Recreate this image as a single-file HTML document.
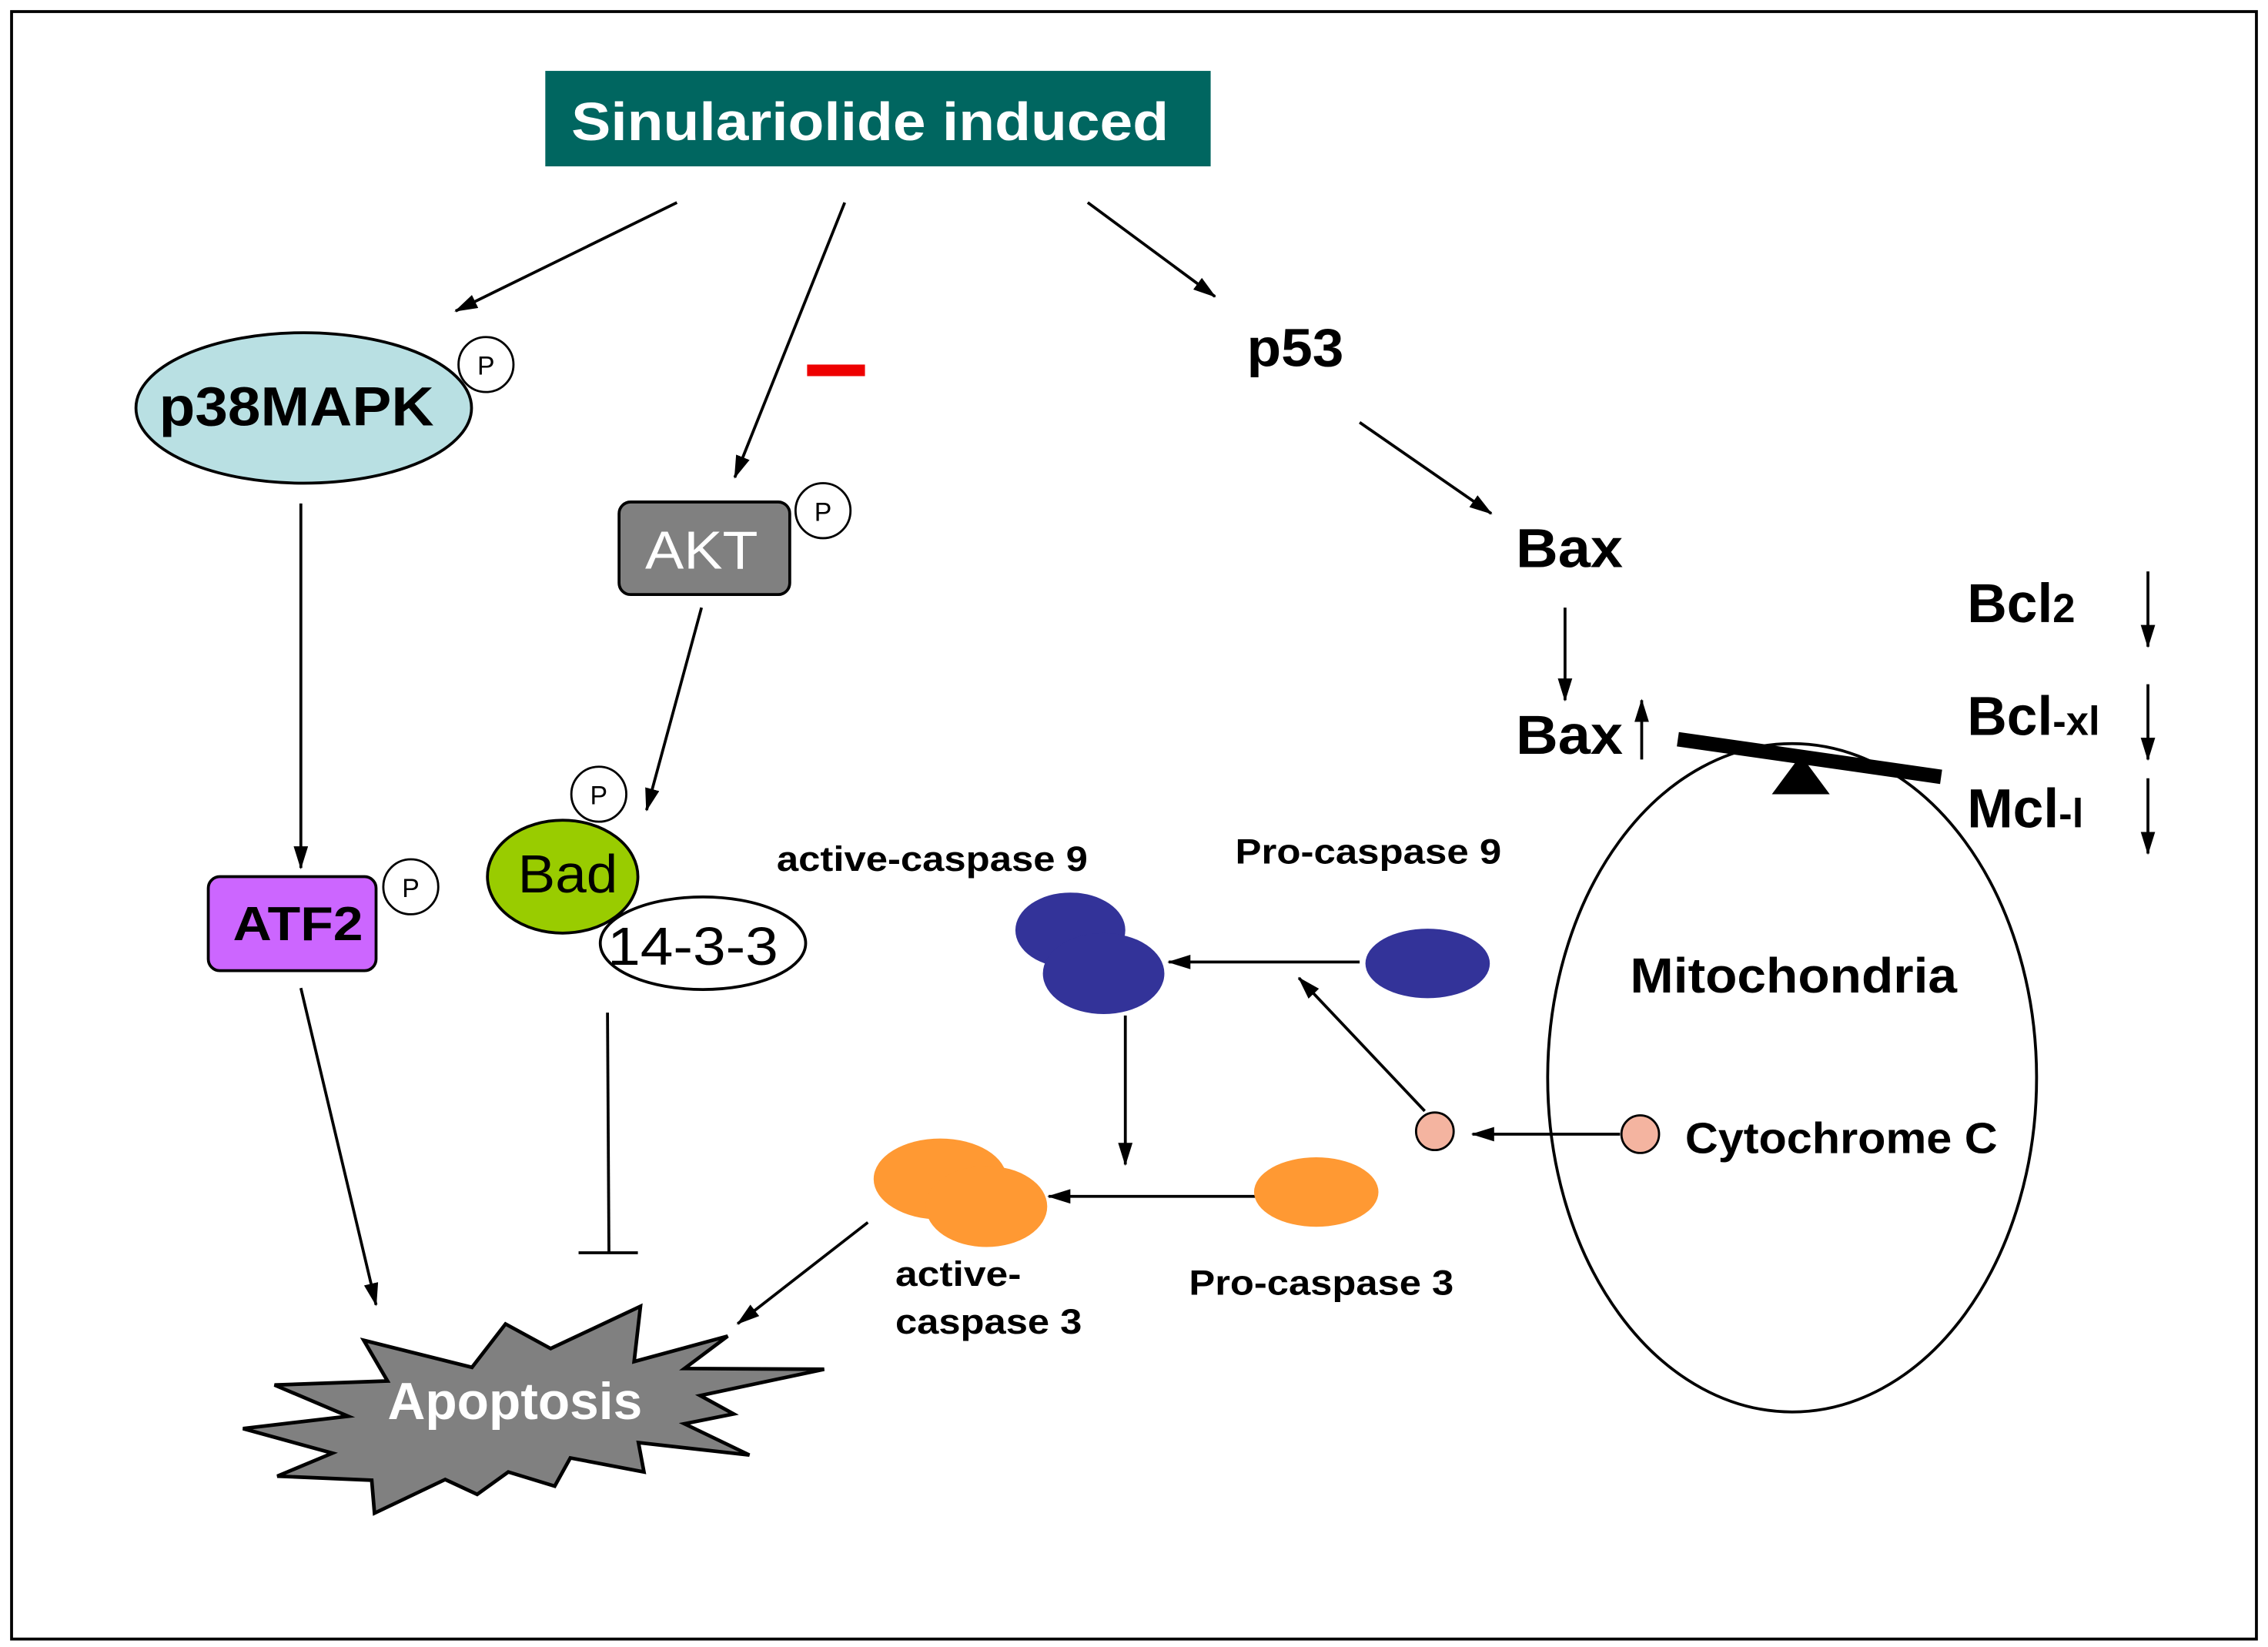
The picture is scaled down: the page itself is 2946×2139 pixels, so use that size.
<!DOCTYPE html>
<html><head><meta charset="utf-8"><style>
html,body{margin:0;padding:0;background:#fff;}
svg{display:block;}
text{font-family:"Liberation Sans",Arial,sans-serif;}
</style></head><body>
<svg width="2946" height="2139" viewBox="0 0 1568 1138.5" preserveAspectRatio="none" xmlns="http://www.w3.org/2000/svg">
<defs>
<marker id="b" markerWidth="16" markerHeight="10" refX="15" refY="5" orient="auto" markerUnits="userSpaceOnUse">
<path d="M0,0 L16,5 L0,10 Z" fill="#000"/></marker>
</defs>
<rect x="8" y="8" width="1552" height="1125" fill="#fff" stroke="#000" stroke-width="2"/>
<rect x="377" y="49" width="460" height="66" fill="#006660"/>
<text x="395" y="97" font-size="37" font-weight="bold" fill="#fff" textLength="413" lengthAdjust="spacingAndGlyphs">Sinulariolide induced</text>
<g stroke="#000" stroke-width="2" fill="none" marker-end="url(#b)">
<line x1="468" y1="140" x2="315" y2="215"/>
<line x1="584" y1="140" x2="508" y2="330"/>
<line x1="752" y1="140" x2="840" y2="205"/>
<line x1="208" y1="348" x2="208" y2="600"/>
<line x1="485" y1="420" x2="447" y2="560"/>
<line x1="208" y1="683" x2="260" y2="902"/>
<line x1="940" y1="292" x2="1031" y2="355"/>
<line x1="1082" y1="420" x2="1082" y2="484"/>
<line x1="1135" y1="525" x2="1135" y2="484"/>
<line x1="1485" y1="395" x2="1485" y2="447"/>
<line x1="1485" y1="473" x2="1485" y2="525"/>
<line x1="1485" y1="538" x2="1485" y2="590"/>
<line x1="1120" y1="784" x2="1018" y2="784"/>
<line x1="985" y1="768" x2="898" y2="676"/>
<line x1="940" y1="665" x2="808" y2="665"/>
<line x1="778" y1="702" x2="778" y2="805"/>
<line x1="868" y1="827" x2="725" y2="827"/>
<line x1="600" y1="845" x2="510" y2="915"/>
</g>
<rect x="558" y="252" width="40" height="8" fill="#e00"/>
<ellipse cx="210" cy="282" rx="116" ry="52" fill="#b9e0e3" stroke="#000" stroke-width="2"/>
<text x="110" y="294" font-size="38" font-weight="bold" textLength="190" lengthAdjust="spacingAndGlyphs">p38MAPK</text>
<g fill="#fff" stroke="#000" stroke-width="1.5">
<circle cx="336" cy="252" r="19"/><circle cx="569" cy="353" r="19"/><circle cx="284" cy="613" r="19"/><circle cx="414" cy="549" r="19"/>
</g>
<g font-size="18" text-anchor="middle"><text x="336" y="259">P</text><text x="569" y="360">P</text><text x="284" y="620">P</text><text x="414" y="556">P</text></g>
<rect x="428" y="347" width="118" height="64" rx="8" fill="#808080" stroke="#000" stroke-width="2"/>
<text x="446" y="393" font-size="37" fill="#fff" textLength="78" lengthAdjust="spacingAndGlyphs">AKT</text>
<rect x="144" y="606" width="116" height="65" rx="8" fill="#cc66ff" stroke="#000" stroke-width="2"/>
<text x="161" y="650" font-size="33" font-weight="bold" textLength="90" lengthAdjust="spacingAndGlyphs">ATF2</text>
<ellipse cx="486" cy="652" rx="71" ry="32" fill="#fff" stroke="#000" stroke-width="2"/>
<ellipse cx="389" cy="606" rx="52" ry="39" fill="#99cc00" stroke="#000" stroke-width="2"/>
<text x="358" y="617" font-size="37" textLength="69" lengthAdjust="spacingAndGlyphs">Bad</text>
<text x="420" y="667" font-size="37" textLength="118" lengthAdjust="spacingAndGlyphs">14-3-3</text>
<line x1="420" y1="700" x2="421" y2="866" stroke="#000" stroke-width="2"/>
<line x1="400" y1="866" x2="441" y2="866" stroke="#000" stroke-width="2"/>
<polygon points="251.5,926.5 326.3,945.2 349.5,915.2 380.7,932.2 442.8,903 438.4,941.2 503.1,923.6 473.2,946 569.8,946.5 484.1,964.7 507.2,977.4 473.2,984.2 518.1,1005.8 441.4,997.2 445.2,1017.5 394.3,1007.8 383.5,1027.3 351.4,1017.5 329.9,1033 307.8,1022.7 258.9,1046 257,1023.2 191.7,1020.4 229.8,1004.5 168,987.5 240.7,979 189.8,957.4 267.9,954.6" fill="#808080" stroke="#000" stroke-width="2.5" stroke-linejoin="miter"/>
<text x="268" y="981" font-size="36" font-weight="bold" fill="#fff" textLength="176" lengthAdjust="spacingAndGlyphs">Apoptosis</text>
<text x="862" y="253" font-size="37" font-weight="bold" textLength="67" lengthAdjust="spacingAndGlyphs">p53</text>
<text x="1048" y="392" font-size="38" font-weight="bold" textLength="74" lengthAdjust="spacingAndGlyphs">Bax</text>
<text x="1048" y="521" font-size="38" font-weight="bold" textLength="74" lengthAdjust="spacingAndGlyphs">Bax</text>
<ellipse cx="1239" cy="745" rx="169" ry="231" fill="none" stroke="#000" stroke-width="2"/>
<line x1="1160" y1="511" x2="1342" y2="537" stroke="#000" stroke-width="10"/>
<polygon points="1245,522 1225,549 1265,549" fill="#000"/>
<text x="1360" y="430" font-size="38" font-weight="bold">Bcl<tspan font-size="28">2</tspan></text>
<text x="1360" y="508" font-size="38" font-weight="bold">Bcl<tspan font-size="28">-xl</tspan></text>
<text x="1360" y="572" font-size="38" font-weight="bold">Mcl<tspan font-size="28">-l</tspan></text>
<text x="1127" y="686" font-size="34" font-weight="bold" textLength="226" lengthAdjust="spacingAndGlyphs">Mitochondria</text>
<circle cx="1134" cy="784" r="13" fill="#f4b4a0" stroke="#000" stroke-width="1.5"/>
<circle cx="992" cy="782" r="13" fill="#f4b4a0" stroke="#000" stroke-width="1.5"/>
<text x="1165" y="797" font-size="30" font-weight="bold" textLength="216" lengthAdjust="spacingAndGlyphs">Cytochrome C</text>
<text x="854" y="597" font-size="24" font-weight="bold" textLength="184" lengthAdjust="spacingAndGlyphs">Pro-caspase 9</text>
<ellipse cx="987" cy="666" rx="43" ry="24" fill="#333399"/>
<ellipse cx="740" cy="643" rx="38" ry="26" fill="#333399"/>
<ellipse cx="763" cy="673" rx="42" ry="28" fill="#333399"/>
<text x="537" y="602" font-size="24" font-weight="bold" textLength="215" lengthAdjust="spacingAndGlyphs">active-caspase 9</text>
<ellipse cx="910" cy="824" rx="43" ry="24" fill="#ff9933"/>
<text x="822" y="895" font-size="24" font-weight="bold" textLength="183" lengthAdjust="spacingAndGlyphs">Pro-caspase 3</text>
<ellipse cx="650" cy="815" rx="46" ry="28" fill="#ff9933"/>
<ellipse cx="682" cy="834" rx="42" ry="28" fill="#ff9933"/>
<text x="619" y="889" font-size="24" font-weight="bold" textLength="87" lengthAdjust="spacingAndGlyphs">active-</text>
<text x="619" y="922" font-size="24" font-weight="bold" textLength="129" lengthAdjust="spacingAndGlyphs">caspase 3</text>
</svg>
</body></html>
